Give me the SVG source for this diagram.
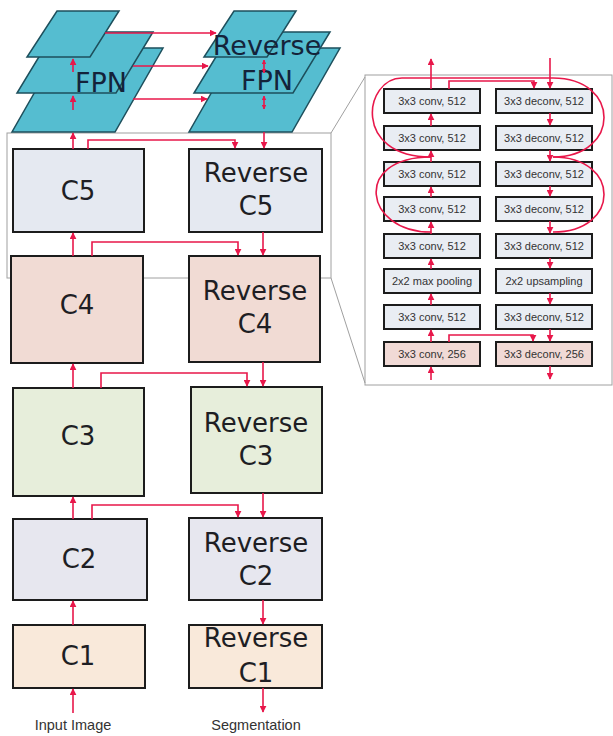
<svg xmlns="http://www.w3.org/2000/svg" width="613" height="736" viewBox="0 0 613 736">
<style>
.box{stroke:#1c1c1c;stroke-width:2}
.big{font-family:"DejaVu Sans",Verdana,sans-serif;font-size:26px;fill:#1e1e24;text-anchor:middle}
.fpnt{font-family:"DejaVu Sans",Verdana,sans-serif;font-size:27px;fill:#14233a;text-anchor:middle}
.small{font-family:"Liberation Sans",Arial,sans-serif;font-size:11px;fill:#333;text-anchor:middle}
.lab{font-family:"Liberation Sans",Arial,sans-serif;font-size:14.5px;fill:#333;text-anchor:middle}
.plane{fill:#55bdd0;stroke:#1d4f5c;stroke-width:1.5}
.red{fill:none;stroke:#e8174a;stroke-width:1.6}
.arr{marker-end:url(#ah)}
.gray{fill:none;stroke:#a0a0a0;stroke-width:1}
.dbox{stroke:#1c1c1c;stroke-width:2;fill:#e9edf3}
.dpink{fill:#f1dad6}
</style>
<defs>
<marker id="ah" viewBox="0 0 10 10" refX="9" refY="5" markerWidth="7" markerHeight="7" markerUnits="userSpaceOnUse" orient="auto-start-reverse">
<path d="M0,0 L10,5 L0,10 z" fill="#e8174a"/>
</marker>
<marker id="ahs" viewBox="0 0 10 10" refX="9" refY="5" markerWidth="4.5" markerHeight="4.5" markerUnits="userSpaceOnUse" orient="auto-start-reverse">
<path d="M0,0 L10,5 L0,10 z" fill="#e8174a"/>
</marker>
</defs>
<rect width="613" height="736" fill="#ffffff"/>

<g id="zoom-frames">
<rect class="gray" x="7" y="133" width="324" height="145"/>
<rect class="gray" x="365" y="75" width="247" height="310"/>
<line class="gray" x1="331" y1="133" x2="365" y2="77"/>
<line class="gray" x1="331" y1="278" x2="365" y2="383"/>
</g>

<g id="fpn">
<polygon class="plane" points="60,48 163,48 115,132 12,132"/>
<polygon class="plane" points="54,32 153,32 116,93 17,93"/>
<polygon class="plane" points="57,11 119,11 90,57 27,57"/>
<text class="fpnt" x="101" y="92">FPN</text>
</g>
<g id="reverse-fpn">
<polygon class="plane" points="237,48 340,48 292,132 189,132"/>
<polygon class="plane" points="231,32 330,32 293,93 194,93"/>
<polygon class="plane" points="234,11 296,11 267,57 204,57"/>
<text class="fpnt" x="267" y="55">Reverse</text>
<text class="fpnt" x="267" y="90">FPN</text>
</g>

<g id="c5"><rect class="box" x="13" y="149" width="131" height="83" fill="#e5e9f1"/><text class="big" x="78" y="200">C5</text></g>
<g id="c4"><rect class="box" x="11" y="256" width="132" height="107" fill="#f1dbd4"/><text class="big" x="77" y="314">C4</text></g>
<g id="c3"><rect class="box" x="13" y="388" width="131" height="108" fill="#e7eedb"/><text class="big" x="78" y="445">C3</text></g>
<g id="c2"><rect class="box" x="13" y="519" width="134" height="81" fill="#e7e7ef"/><text class="big" x="79" y="568">C2</text></g>
<g id="c1"><rect class="box" x="13" y="625" width="132" height="63" fill="#f9e9da"/><text class="big" x="78" y="665">C1</text></g>

<g id="rc5"><rect class="box" x="189" y="149" width="133" height="83" fill="#e5e9f1"/><text class="big" x="256" y="182">Reverse</text><text class="big" x="256" y="215">C5</text></g>
<g id="rc4"><rect class="box" x="189" y="256" width="131" height="106" fill="#f1dbd4"/><text class="big" x="255" y="300">Reverse</text><text class="big" x="255" y="333">C4</text></g>
<g id="rc3"><rect class="box" x="191" y="387" width="131" height="106" fill="#e7eedb"/><text class="big" x="256" y="432">Reverse</text><text class="big" x="256" y="465">C3</text></g>
<g id="rc2"><rect class="box" x="189" y="518" width="133" height="82" fill="#e7e7ef"/><text class="big" x="256" y="552">Reverse</text><text class="big" x="256" y="585">C2</text></g>
<g id="rc1"><rect class="box" x="189" y="625" width="133" height="63" fill="#f9e9da"/><text class="big" x="256" y="647">Reverse</text><text class="big" x="256" y="682">C1</text></g>

<g id="input-label"><text class="lab" x="73" y="730">Input Image</text></g>
<g id="segmentation-label"><text class="lab" x="256" y="730">Segmentation</text></g>

<g id="d-l1"><rect class="dbox" x="384" y="89" width="96" height="24"/><text class="small" x="432" y="105">3x3 conv, 512</text></g>
<g id="d-l2"><rect class="dbox" x="384" y="126" width="96" height="24"/><text class="small" x="432" y="142">3x3 conv, 512</text></g>
<g id="d-l3"><rect class="dbox" x="384" y="162" width="96" height="24"/><text class="small" x="432" y="178">3x3 conv, 512</text></g>
<g id="d-l4"><rect class="dbox" x="384" y="197" width="96" height="24"/><text class="small" x="432" y="213">3x3 conv, 512</text></g>
<g id="d-l5"><rect class="dbox" x="384" y="234" width="96" height="24"/><text class="small" x="432" y="250">3x3 conv, 512</text></g>
<g id="d-l6"><rect class="dbox" x="384" y="269" width="96" height="24"/><text class="small" x="432" y="285">2x2 max pooling</text></g>
<g id="d-l7"><rect class="dbox" x="384" y="305" width="96" height="24"/><text class="small" x="432" y="321">3x3 conv, 512</text></g>
<g id="d-l8"><rect class="dbox dpink" x="384" y="342" width="96" height="24"/><text class="small" x="432" y="358">3x3 conv, 256</text></g>

<g id="d-r1"><rect class="dbox" x="496" y="89" width="96" height="24"/><text class="small" x="544" y="105">3x3 deconv, 512</text></g>
<g id="d-r2"><rect class="dbox" x="496" y="126" width="96" height="24"/><text class="small" x="544" y="142">3x3 deconv, 512</text></g>
<g id="d-r3"><rect class="dbox" x="496" y="162" width="96" height="24"/><text class="small" x="544" y="178">3x3 deconv, 512</text></g>
<g id="d-r4"><rect class="dbox" x="496" y="197" width="96" height="24"/><text class="small" x="544" y="213">3x3 deconv, 512</text></g>
<g id="d-r5"><rect class="dbox" x="496" y="234" width="96" height="24"/><text class="small" x="544" y="250">3x3 deconv, 512</text></g>
<g id="d-r6"><rect class="dbox" x="496" y="269" width="96" height="24"/><text class="small" x="544" y="285">2x2 upsampling</text></g>
<g id="d-r7"><rect class="dbox" x="496" y="305" width="96" height="24"/><text class="small" x="544" y="321">3x3 deconv, 512</text></g>
<g id="d-r8"><rect class="dbox dpink" x="496" y="342" width="96" height="24"/><text class="small" x="544" y="358">3x3 deconv, 256</text></g>

<g id="connectors">
<path class="red arr" d="M105,33 H216"/>
<path class="red arr" d="M133,66 H208"/>
<path class="red arr" d="M133,99 H207"/>
<path class="red arr" d="M73,72 V59"/>
<path class="red arr" d="M73,110 V96"/>
<path class="red" d="M264,60 V73" marker-start="url(#ahs)" marker-end="url(#ahs)"/>
<path class="red" d="M264,96 V109" marker-start="url(#ahs)" marker-end="url(#ahs)"/>
<path class="red arr" d="M73,149 V133"/>
<path class="red arr" d="M73,256 V233"/>
<path class="red arr" d="M73,388 V364"/>
<path class="red arr" d="M73,519 V497"/>
<path class="red arr" d="M73,625 V601"/>
<path class="red arr" d="M73,713 V689"/>
<path class="red arr" d="M264,132 V148"/>
<path class="red arr" d="M263,232 V255"/>
<path class="red arr" d="M263,362 V386"/>
<path class="red arr" d="M263,493 V517"/>
<path class="red arr" d="M263,600 V624"/>
<path class="red arr" d="M263,688 V712"/>
<path class="red arr" d="M88,149 V140 H235 V148"/>
<path class="red arr" d="M92,256 V242 H238 V255"/>
<path class="red arr" d="M101,388 V373 H247 V386"/>
<path class="red arr" d="M92,519 V505 H238 V517"/>
<path class="red arr" d="M431,89 V59"/>
<path class="red arr" d="M550,58 V88"/>
<path class="red arr" d="M449,89 V81 H534 V88"/>
<path class="red arr" d="M449,342 V335 H533 V341"/>
<path class="red arr" d="M431,126 V114"/>
<path class="red arr" d="M431,162 V151"/>
<path class="red arr" d="M431,197 V187"/>
<path class="red arr" d="M431,234 V222"/>
<path class="red arr" d="M431,269 V259"/>
<path class="red arr" d="M431,305 V294"/>
<path class="red arr" d="M431,342 V330"/>
<path class="red arr" d="M431,380 V367"/>
<path class="red arr" d="M550,113 V125"/>
<path class="red arr" d="M550,150 V161"/>
<path class="red arr" d="M550,186 V196"/>
<path class="red arr" d="M550,221 V233"/>
<path class="red arr" d="M550,258 V268"/>
<path class="red arr" d="M550,293 V304"/>
<path class="red arr" d="M550,329 V341"/>
<path class="red arr" d="M550,366 V379"/>
<path class="red" d="M431,157 C352,157 364,78 402,78 H553 C621,78 621,157 553,157"/>
<path class="red" d="M431,157 C352,157 364,232 431,232 M553,157 C621,157 621,232 553,232"/>
</g>
</svg>
